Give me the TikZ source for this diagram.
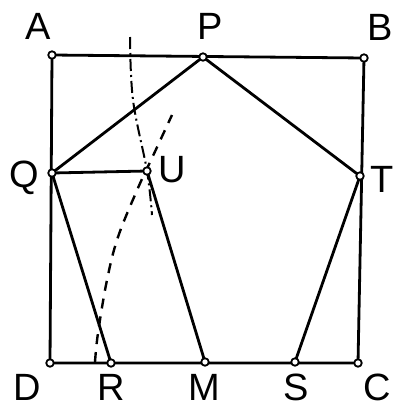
\documentclass[tikz,border=0pt]{standalone}
\usepackage{fontspec}
\setmainfont{Liberation Sans}
\begin{document}
\begin{tikzpicture}[x=1pt,y=-1pt,
  edge/.style={line width=2.8pt,line cap=round,line join=round},
  pt/.style={circle,draw,fill=white,line width=1.8pt,inner sep=0pt,minimum size=7.5pt},
  lbl/.style={font=\fontsize{38}{38}\selectfont,inner sep=0pt},
  dashline/.style={line width=2.4pt,dash pattern=on 10pt off 8pt},
  dashdot/.style={line width=2pt,dash pattern=on 12pt off 4pt on 2pt off 4pt}]
\useasboundingbox (0,0) rectangle (397,410);
\coordinate (A) at (52,55);
\coordinate (P) at (203,57);
\coordinate (B) at (364,58);
\coordinate (Q) at (52,173);
\coordinate (U) at (147,171);
\coordinate (T) at (360,176);
\coordinate (D) at (50,363);
\coordinate (R) at (111,363);
\coordinate (M) at (205,362);
\coordinate (S) at (295,362);
\coordinate (C) at (358,363);
% construction lines
\draw[dashdot] plot[smooth,tension=0.6] coordinates {(130,37) (133,100) (147,171) (152,215)};
\draw[dashline] plot[smooth,tension=0.6] coordinates {(95,362) (98,333) (107,280) (118,237) (138,188) (152,158) (172,115)};
% square
\draw[edge] (A) -- (B) -- (C) -- (D) -- cycle;
% pentagon and others
\draw[edge] (Q) -- (P) -- (T) -- (S);
\draw[edge] (Q) -- (R);
\draw[edge] (Q) -- (U) -- (M);
% points
\foreach \p in {A,P,B,Q,U,T,D,R,M,S,C} \node[pt] (n\p) at (\p) {};
% labels
\node[lbl] (lA) at (38,26) {A};
\node[lbl] (lP) at (210,26) {P};
\node[lbl] (lB) at (380,27) {B};
\node[lbl] (lQ) at (24,178) {Q};
\node[lbl] (lU) at (172,170) {U};
\node[lbl] (lT) at (382,179) {T};
\node[lbl] (lD) at (27,387) {D};
\node[lbl] (lR) at (111,387) {R};
\node[lbl] (lM) at (204,387) {M};
\node[lbl] (lS) at (296,387) {S};
\node[lbl] (lC) at (377,387) {C};
\end{tikzpicture}
\end{document}
